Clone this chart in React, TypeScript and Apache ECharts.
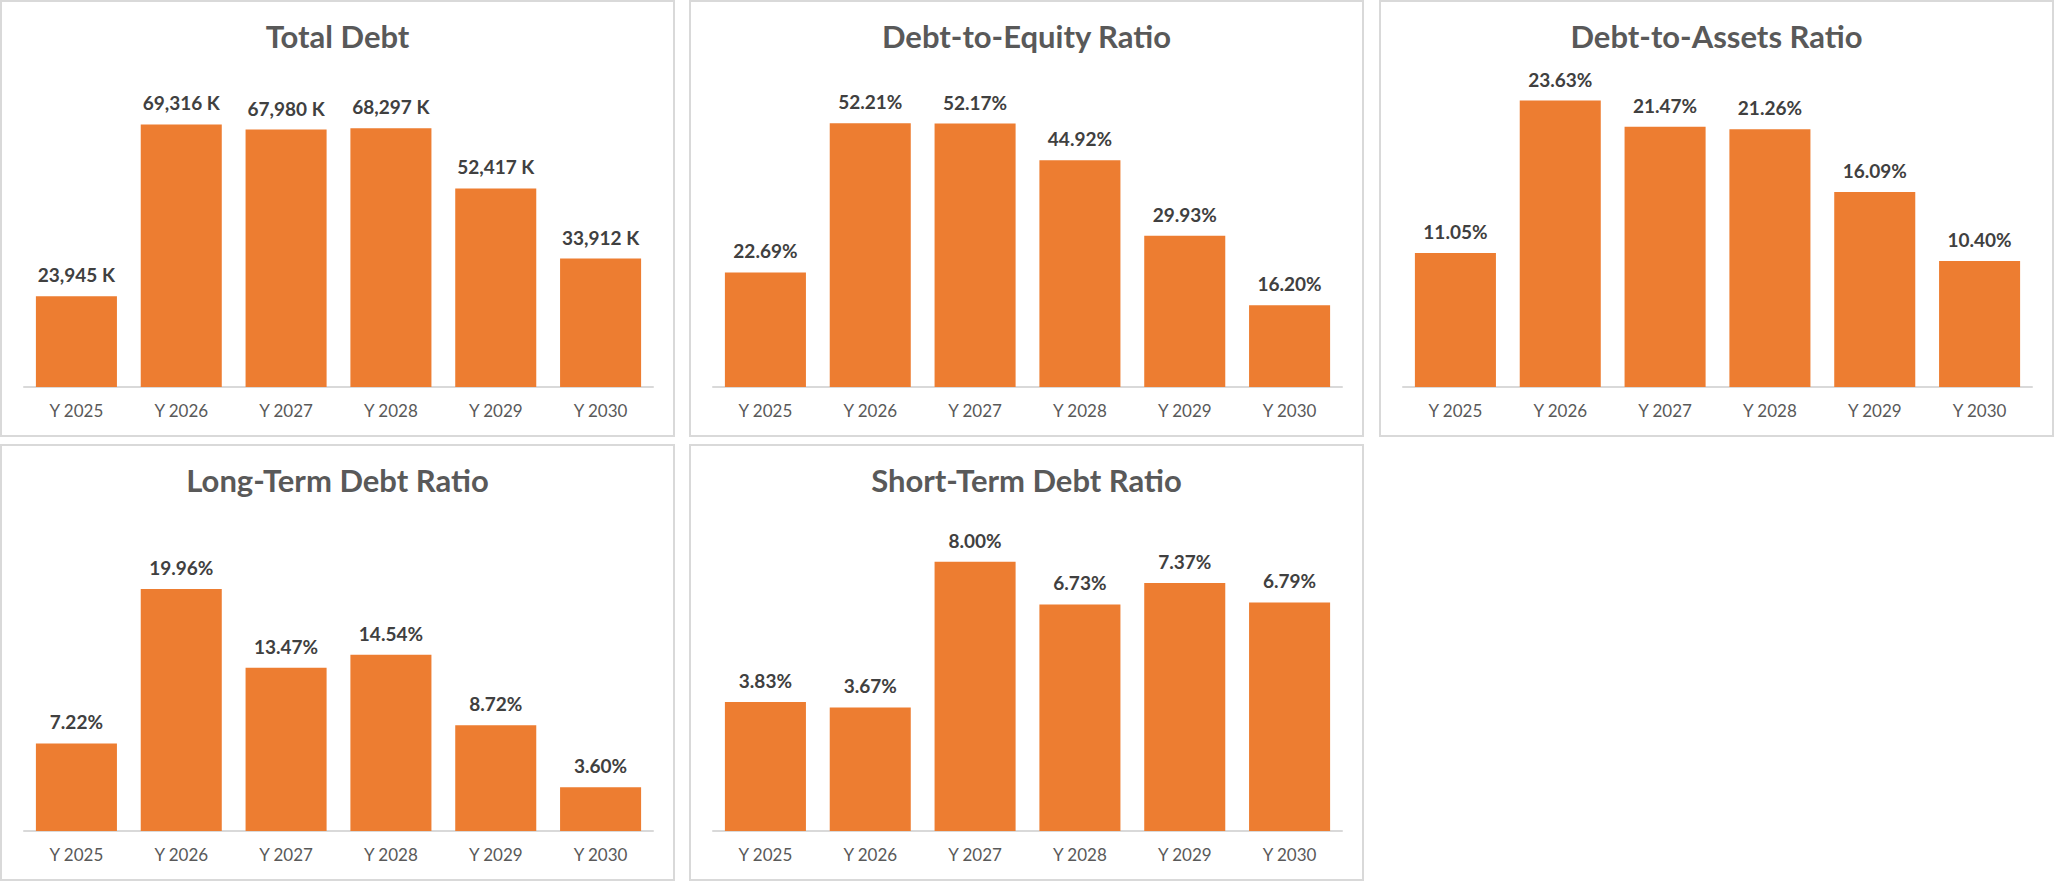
import { useEffect, useRef } from 'react';
import * as echarts from 'echarts';

const years = ['Y 2025', 'Y 2026', 'Y 2027', 'Y 2028', 'Y 2029', 'Y 2030'];

const totalDebt = [23945, 69316, 67980, 68297, 52417, 33912];
const debtToEquity = [22.69, 52.21, 52.17, 44.92, 29.93, 16.2];
const debtToAssets = [11.05, 23.63, 21.47, 21.26, 16.09, 10.4];
const longTermDebt = [7.22, 19.96, 13.47, 14.54, 8.72, 3.6];
const shortTermDebt = [3.83, 3.67, 8.0, 6.73, 7.37, 6.79];

const titles = ['Total Debt', 'Debt-to-Equity Ratio', 'Debt-to-Assets Ratio', 'Long-Term Debt Ratio', 'Short-Term Debt Ratio'];
const seriesList = [totalDebt, debtToEquity, debtToAssets, longTermDebt, shortTermDebt];
const axisMax = [80000, 60, 25, 25, 9];
const units = ['K', '%', '%', '%', '%'];

// panel boxes (px)
const panelLeft = [0, 689, 1379, 0, 689];
const panelTop = [0, 0, 0, 444, 444];
const PW = 675;
const PH = 436;

const FONT = 'Lato, "Open Sans", sans-serif';
const ORANGE = '#ed7d31';

const fmt = (v: number, unit: string) =>
  unit === 'K' ? `${v.toLocaleString('en-US')} K` : `${v.toFixed(2)}%`;

export default function App() {
  const chartRef = useRef<HTMLDivElement>(null);

  useEffect(() => {
    document.body.style.margin = '0';
    if (!chartRef.current) return;
    const chart = echarts.init(chartRef.current, undefined, { renderer: 'svg' });

    const idx = [0, 1, 2, 3, 4];

    chart.setOption({
      animation: false,
      backgroundColor: '#ffffff',
      title: idx.map((i) => ({
        text: titles[i],
        left: panelLeft[i] + PW / 2,
        top: panelTop[i] + 20,
        textAlign: 'center',
        padding: 0,
        textStyle: { color: '#595959', fontSize: 31, fontWeight: 'bold', fontFamily: FONT },
      })),
      grid: idx.map((i) => ({
        left: panelLeft[i] + 24,
        top: panelTop[i] + 84,
        width: PW - 46,
        height: 303,
      })),
      xAxis: idx.map((i) => ({
        type: 'category',
        gridIndex: i,
        data: years,
        axisLine: { lineStyle: { color: '#d9d9d9', width: 2 } },
        axisTick: { show: false },
        axisLabel: { color: '#595959', fontSize: 17, fontFamily: FONT, margin: 15 },
      })),
      yAxis: idx.map((i) => ({
        type: 'value',
        gridIndex: i,
        min: 0,
        max: axisMax[i],
        show: false,
        splitLine: { show: false },
      })),
      series: idx.map((i) => ({
        type: 'bar',
        xAxisIndex: i,
        yAxisIndex: i,
        data: seriesList[i],
        barCategoryGap: '22.7%',
        itemStyle: { color: ORANGE },
        label: {
          show: true,
          position: 'top',
          distance: 12,
          color: '#404040',
          fontSize: 19,
          fontWeight: 'bold',
          fontFamily: FONT,
          formatter: (p: any) => fmt(p.value, units[i]),
        },
      })),
      graphic: idx.map((i) => ({
        type: 'rect',
        shape: { x: panelLeft[i] + 1, y: panelTop[i] + 1, width: PW - 2, height: PH - 1 },
        style: { fill: 'none', stroke: '#d9d9d9', lineWidth: 2 },
        silent: true,
        z: -1,
      })),
    });

    return () => {
      chart.dispose();
    };
  }, []);

  return <div ref={chartRef} style={{ width: 2055, height: 881 }} />;
}
